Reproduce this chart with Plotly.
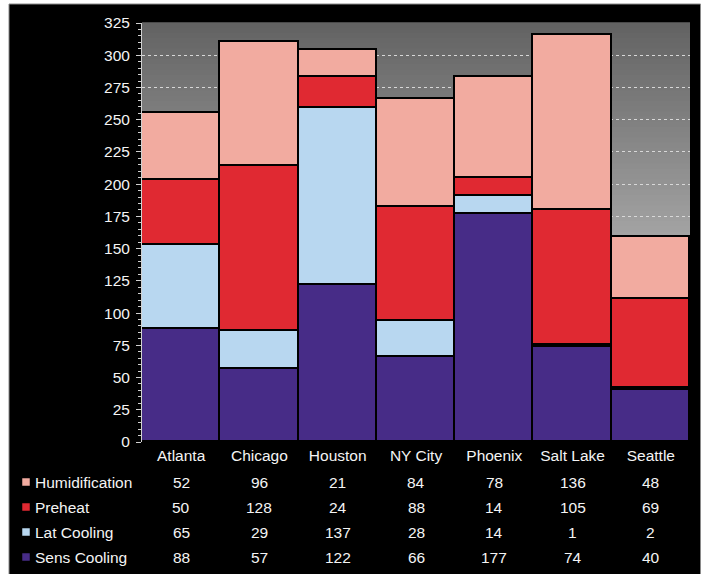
import plotly.graph_objects as go

cities = ["Atlanta", "Chicago", "Houston", "NY City", "Phoenix", "Salt Lake", "Seattle"]
sens_cooling = [88, 57, 122, 66, 177, 74, 40]
lat_cooling = [65, 29, 137, 28, 14, 1, 2]
preheat = [50, 128, 24, 88, 14, 105, 69]
humidification = [52, 96, 21, 84, 78, 136, 48]

# stacked bottom-to-top
series = [
    ("Sens Cooling", sens_cooling, "#472c87"),
    ("Lat Cooling", lat_cooling, "#b8d7f0"),
    ("Preheat", preheat, "#e02932"),
    ("Humidification", humidification, "#f2aba0"),
]

W, H = 707, 574
L, R, T, B = 142, 17, 23, 132
PW, PH = W - L - R, H - T - B


def px_x(px):
    return (px - L) / PW


def px_y(py):
    return (H - B - py) / PH


FONT = "Liberation Sans, Arial, sans-serif"
FS = 15.5
TXT = "#f4f4f4"

fig = go.Figure()
for name, vals, col in series:
    fig.add_trace(go.Bar(
        x=cities, y=vals, name=name,
        marker=dict(color=col, line=dict(color="#000000", width=1.8)),
        showlegend=False,
    ))

shapes = []
# black panel with thin grey rim
shapes.append(dict(type="rect", xref="paper", yref="paper",
                   x0=px_x(9), x1=px_x(700.5), y0=px_y(4), y1=px_y(576),
                   fillcolor="#000000", line=dict(color="#8a8a8a", width=1),
                   layer="below"))
# vertical grey gradient behind the bars
n = 80
top_c, bot_c = 98, 226
for i in range(n):
    f0, f1 = i / n, (i + 1) / n
    g = int(round(top_c + (bot_c - top_c) * (i + 0.5) / n))
    shapes.append(dict(type="rect", xref="paper", yref="paper",
                       x0=0, x1=1, y0=1 - f1, y1=1 - f0 + 0.002,
                       fillcolor=f"rgb({g},{g},{g})", line=dict(width=0),
                       layer="below"))

annotations = []
row_y = [482, 507, 532, 557]
table_rows = list(reversed(series))  # Humidification first
for (name, vals, col), py in zip(table_rows, row_y):
    shapes.append(dict(type="rect", xref="paper", yref="paper",
                       x0=px_x(22), x1=px_x(30), y0=px_y(py + 4), y1=px_y(py - 4),
                       fillcolor=col, line=dict(color="#000000", width=0.5)))
    annotations.append(dict(xref="paper", yref="paper", x=px_x(33), y=px_y(py),
                            text=name, showarrow=False, xanchor="left", yanchor="middle",
                            font=dict(family=FONT, size=FS, color=TXT)))
    for c, v in zip(cities, vals):
        annotations.append(dict(xref="x", yref="paper", x=c, y=px_y(py),
                                text=str(v), showarrow=False, xanchor="center",
                                yanchor="middle",
                                font=dict(family=FONT, size=FS, color=TXT)))

fig.update_layout(
    width=W, height=H,
    margin=dict(l=L, r=R, t=T, b=B, pad=0),
    paper_bgcolor="#ffffff",
    plot_bgcolor="rgba(0,0,0,0)",
    barmode="stack",
    bargap=0,
    font=dict(family=FONT, size=FS, color=TXT),
    shapes=shapes,
    annotations=annotations,
    xaxis=dict(
        showgrid=False, zeroline=False, showline=False, ticks="",
        ticklabelstandoff=2,
        tickfont=dict(family=FONT, size=FS, color=TXT),
        fixedrange=True,
    ),
    yaxis=dict(
        range=[0, 325], dtick=25, tick0=0,
        showgrid=True, gridcolor="#d8d8d8", griddash="dot", gridwidth=1,
        zeroline=False,
        showline=True, linecolor="#d0d0d0", linewidth=1,
        ticks="outside", ticklen=5, tickcolor="#d0d0d0", tickwidth=1,
        minor=dict(dtick=5, ticks="outside", ticklen=3, tickcolor="#d0d0d0", showgrid=False),
        ticklabelstandoff=3,
        tickfont=dict(family=FONT, size=FS, color=TXT),
        fixedrange=True,
    ),
    showlegend=False,
)

fig.write_html("out.html")
